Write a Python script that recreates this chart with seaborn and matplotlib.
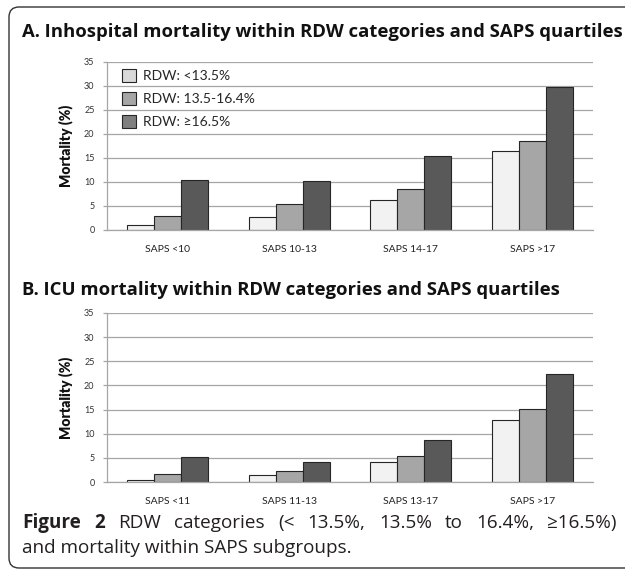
import numpy as np
import pandas as pd
import seaborn as sns
import matplotlib.pyplot as plt
from matplotlib.patches import FancyBboxPatch

sns.set_theme(style="white")
plt.rcParams['font.family'] = ['Lato', 'DejaVu Sans']

# data
rdw_groups = ["RDW: <13.5%", "RDW: 13.5-16.4%", "RDW: \u226516.5%"]
saps_a = ["SAPS <10", "SAPS 10-13", "SAPS 14-17", "SAPS >17"]
saps_b = ["SAPS <11", "SAPS 11-13", "SAPS 13-17", "SAPS >17"]

inhosp_low = [1.0, 2.7, 6.2, 16.5]
inhosp_mid = [2.9, 5.5, 8.6, 18.6]
inhosp_high = [10.4, 10.3, 15.5, 29.7]

icu_low = [0.5, 1.5, 4.2, 12.9]
icu_mid = [1.7, 2.2, 5.3, 15.2]
icu_high = [5.1, 4.2, 8.8, 22.3]

bar_colors = ["#f2f2f2", "#a6a6a6", "#595959"]
legend_colors = ["#d9d9d9", "#a6a6a6", "#7f7f7f"]


def long_table(cats, low, mid, high):
    rows = []
    for vals, grp in zip([low, mid, high], rdw_groups):
        for c, v in zip(cats, vals):
            rows.append({"saps": c, "rdw": grp, "mortality": v})
    return pd.DataFrame(rows)


df_a = long_table(saps_a, inhosp_low, inhosp_mid, inhosp_high)
df_b = long_table(saps_b, icu_low, icu_mid, icu_high)

W, H = 625, 570
fig = plt.figure(figsize=(W / 100, H / 100), dpi=100)
renderer = fig.canvas.get_renderer()


def px_axes(left, top, right, bottom):
    return fig.add_axes([left / W, 1 - bottom / H, (right - left) / W, (bottom - top) / H])


ax_a = px_axes(107, 62, 593, 230)
ax_b = px_axes(107, 313, 593, 482)

for ax, df in [(ax_a, df_a), (ax_b, df_b)]:
    sns.barplot(data=df, x="saps", y="mortality", hue="rdw", palette=bar_colors,
                width=0.67, saturation=1, edgecolor="#262626", linewidth=0.8,
                ax=ax, legend=(ax is ax_a))
    ax.set_ylim(0, 35)
    ax.set_yticks(np.arange(0, 36, 5))
    ax.yaxis.grid(True, color="#a6a6a6", linewidth=0.9)
    ax.set_axisbelow(True)
    for s in ["top", "right"]:
        ax.spines[s].set_visible(False)
    for s in ["left", "bottom"]:
        ax.spines[s].set_color("#a6a6a6")
        ax.spines[s].set_linewidth(0.9)
    ax.tick_params(axis="y", length=3, width=0.9, color="#a6a6a6", labelsize=6.5,
                   labelcolor="#333333", pad=6, left=True)
    ax.tick_params(axis="x", length=0, labelsize=7.5, labelcolor="#222222", pad=11)
    ax.set_xlabel("")
    ax.set_ylabel("Mortality (%)", fontsize=10, fontweight="heavy", color="#111111", labelpad=8)

leg = ax_a.legend(loc="upper left", bbox_to_anchor=(0.02, 0.99), borderaxespad=0,
                  frameon=False, fontsize=10, handlelength=1.0, handleheight=1.0,
                  labelspacing=0.72, handletextpad=0.5)
for h, c in zip(leg.legend_handles, legend_colors):
    h.set_facecolor(c)
    h.set_edgecolor("#262626")

# panel titles
title_font = ['Open Sans', 'DejaVu Sans']
fig.text(22 / W, 1 - 32 / H, "A. Inhospital mortality within RDW categories and SAPS quartiles",
         fontsize=13.3, fontweight="bold", family=title_font, color="#111111",
         va="center", ha="left")
fig.text(22 / W, 1 - 290 / H, "B. ICU mortality within RDW categories and SAPS quartiles",
         fontsize=13.3, fontweight="bold", family=title_font, color="#111111",
         va="center", ha="left")

# caption, first line justified between x0 and x1
cap_font = ['Open Sans', 'DejaVu Sans']
cap_size = 13.6
line1 = [("Figure", "bold"), ("2", "bold"), ("RDW", "normal"), ("categories", "normal"),
         ("(<", "normal"), ("13.5%,", "normal"), ("13.5%", "normal"), ("to", "normal"),
         ("16.4%,", "normal"), ("\u226516.5%)", "normal")]
x0, x1 = 22, 617
words = [fig.text(0, 1 - 523 / H, w, fontsize=cap_size, fontweight=wt, family=cap_font,
                  color="#231f20", va="center", ha="left") for w, wt in line1]
widths = [t.get_window_extent(renderer).width for t in words]
gap = (x1 - x0 - sum(widths)) / (len(words) - 1)
x = x0
for t, wdt in zip(words, widths):
    t.set_x(x / W)
    x += wdt + gap
fig.text(x0 / W, 1 - 548 / H, "and mortality within SAPS subgroups.",
         fontsize=cap_size, family=cap_font, color="#231f20", va="center", ha="left")

# rounded outer frame
frame = FancyBboxPatch((0.09, 0.02), 6.4, 5.61, boxstyle="round,pad=0,rounding_size=0.1",
                       transform=fig.dpi_scale_trans, facecolor="none",
                       edgecolor="#333333", linewidth=1.0, clip_on=False)
fig.add_artist(frame)

fig.savefig("out.png", dpi=100)
